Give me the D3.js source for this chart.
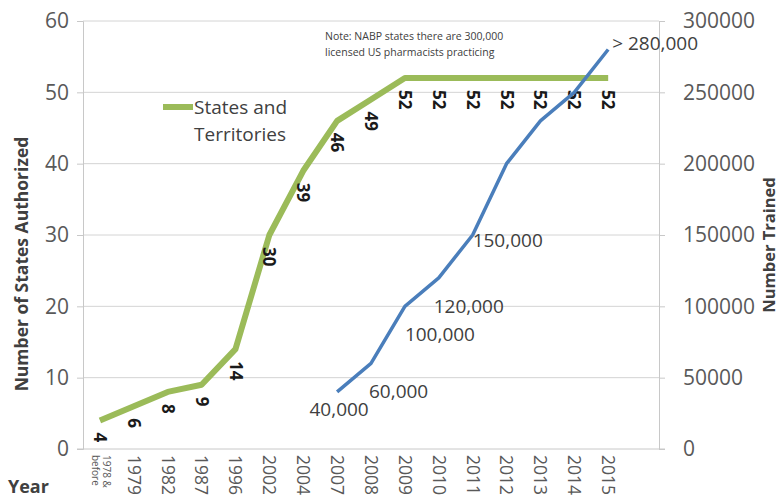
<!DOCTYPE html>
<html>
<head>
<meta charset="utf-8">
<script src="https://cdn.jsdelivr.net/npm/d3@7"></script>
<style>
  html, body { margin: 0; padding: 0; background: #fff; }
  svg { display: block; font-family: "Open Sans", "Noto Sans", sans-serif; }
</style>
</head>
<body>
<svg id="chart" width="782" height="499"></svg>
<script>
// categories (last slot is an empty category, as in the original sheet)
const years = ["1978 & before", "1979", "1982", "1987", "1996", "2002", "2004", "2007",
  "2008", "2009", "2010", "2011", "2012", "2013", "2014", "2015", ""];
const states = [4, 6, 8, 9, 14, 30, 39, 46, 49, 52, 52, 52, 52, 52, 52, 52];
const trainedYears = ["2007", "2008", "2009", "2010", "2011", "2012", "2013", "2014", "2015"];
const trained = [40000, 60000, 100000, 120000, 150000, 200000, 230000, 250000, 280000];
const trainedLabels = ["40,000", "60,000", "100,000", "120,000", "150,000", null, null, null, "> 280,000"];
const leftTicks = [0, 10, 20, 30, 40, 50, 60];
const rightTicks = [0, 50000, 100000, 150000, 200000, 250000, 300000];

(function () {
  const svg = d3.select('#chart');
  const L = 83, R = 659, T = 21, B = 449;
  const green = '#9bbb59', blue = '#4a7ebb';

  const x = d3.scaleBand().domain(years).range([L, R]);
  const cx = d => x(d) + x.bandwidth() / 2;
  const yL = d3.scaleLinear().domain([0, 60]).range([B, T]);
  const yR = d3.scaleLinear().domain([0, 300000]).range([B, T]);

  // gridlines
  svg.append('g').selectAll('line').data(leftTicks.slice(1)).join('line')
    .attr('x1', L).attr('x2', R).attr('y1', d => yL(d)).attr('y2', d => yL(d))
    .attr('stroke', '#d4d4d4').attr('stroke-width', 1);

  // left axis
  const axL = svg.append('g').attr('transform', `translate(${L},0)`)
    .call(d3.axisLeft(yL).tickValues(leftTicks).tickSize(6).tickPadding(8));
  axL.select('.domain').attr('stroke', '#c8c8c8');
  axL.selectAll('.tick line').attr('stroke', '#c8c8c8');
  axL.selectAll('.tick text').attr('font-size', 21).attr('fill', '#595959')
    .attr('font-family', '"Open Sans", sans-serif');

  // right axis
  const axR = svg.append('g').attr('transform', `translate(${R},0)`)
    .call(d3.axisRight(yR).tickValues(rightTicks).tickFormat(d3.format('d')).tickSize(6).tickPadding(18));
  axR.select('.domain').attr('stroke', '#c8c8c8');
  axR.selectAll('.tick line').attr('stroke', '#c8c8c8');
  axR.selectAll('.tick text').attr('font-size', 21).attr('fill', '#595959')
    .attr('font-family', '"Open Sans", sans-serif');

  // category axis
  svg.append('line').attr('x1', L - 6).attr('x2', R + 6).attr('y1', B).attr('y2', B)
    .attr('stroke', '#c8c8c8');
  const xl = svg.append('g');
  years.forEach((yr, i) => {
    if (!yr) return;
    const t = xl.append('text')
      .attr('transform', `translate(${cx(yr)},${B + 6}) rotate(90)`)
      .attr('fill', '#595959');
    if (i === 0) {
      t.attr('font-size', 10);
      t.append('tspan').attr('x', 0).attr('y', -3).text('1978 &');
      t.append('tspan').attr('x', 0).attr('y', 8).text('before');
    } else {
      t.attr('font-size', 17.5).attr('dy', '0.35em').text(yr);
    }
  });

  // states line
  const lineL = d3.line().x((d, i) => cx(years[i])).y(d => yL(d));
  svg.append('path').datum(states).attr('d', lineL)
    .attr('fill', 'none').attr('stroke', green).attr('stroke-width', 6)
    .attr('stroke-linejoin', 'round');

  svg.append('g').selectAll('text').data(states).join('text')
    .attr('transform', (d, i) => `translate(${cx(years[i])},${yL(d) + 12}) rotate(90)`)
    .attr('dy', '0.35em').attr('font-size', 17).attr('font-weight', 700)
    .attr('fill', '#1a1a1a').text(d => d);

  // trained line
  const lineR = d3.line().x((d, i) => cx(trainedYears[i])).y(d => yR(d));
  svg.append('path').datum(trained).attr('d', lineR)
    .attr('fill', 'none').attr('stroke', blue).attr('stroke-width', 3.5)
    .attr('stroke-linejoin', 'round');

  // label placement for the trained series (dx, dy, anchor)
  const place = [[2, 24, 'middle'], [-2, 35, 'start'], [0, 35, 'start'], [-5, 35, 'start'],
    [0, 12, 'start'], null, null, null, [4, 0, 'start']];
  trainedLabels.forEach((lab, i) => {
    if (!lab) return;
    const p = place[i];
    svg.append('text')
      .attr('x', cx(trainedYears[i]) + p[0]).attr('y', yR(trained[i]) + p[1])
      .attr('text-anchor', p[2]).attr('font-size', 19).attr('fill', '#404040')
      .text(lab);
  });

  // legend
  svg.append('line').attr('x1', 163).attr('x2', 193).attr('y1', 107).attr('y2', 107)
    .attr('stroke', green).attr('stroke-width', 6);
  const lg = svg.append('text').attr('font-size', 19).attr('fill', '#404040');
  lg.append('tspan').attr('x', 194).attr('y', 114).text('States and');
  lg.append('tspan').attr('x', 194).attr('y', 141).text('Territories');

  // note
  const note = svg.append('text').attr('font-size', 10.5).attr('fill', '#404040');
  note.append('tspan').attr('x', 325).attr('y', 40).text('Note:  NABP states there are 300,000');
  note.append('tspan').attr('x', 325).attr('y', 56).text('licensed US pharmacists practicing');

  // axis titles
  svg.append('text').attr('transform', 'translate(28,264) rotate(-90)')
    .attr('text-anchor', 'middle').attr('font-size', 17.5).attr('font-weight', 700)
    .attr('fill', '#404040').text('Number of States Authorized');
  svg.append('text').attr('transform', 'translate(775,245) rotate(-90)')
    .attr('text-anchor', 'middle').attr('font-size', 16.5).attr('font-weight', 700)
    .attr('fill', '#404040').text('Number Trained');
  svg.append('text').attr('x', 8).attr('y', 493).attr('font-size', 18).attr('font-weight', 700)
    .attr('fill', '#404040').text('Year');
})();
</script>
</body>
</html>
